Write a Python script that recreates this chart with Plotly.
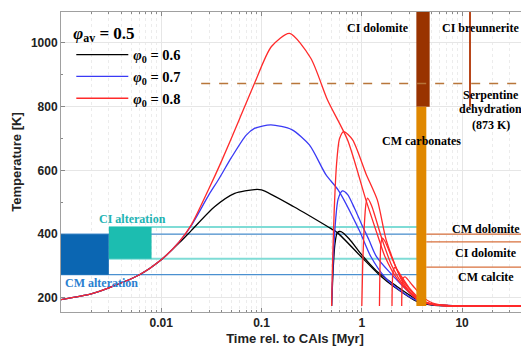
import math
import plotly.graph_objects as go

# ---------------- data ----------------
# main curves, time [Myr] and temperature [K]
black_t = [0.001, 0.002, 0.003, 0.006, 0.01, 0.015, 0.02, 0.034, 0.054, 0.085, 0.1, 0.21, 0.455, 0.57, 0.98, 1.5, 2.1, 3.6, 5.0, 8.0, 46]
black_T = [195, 213, 232, 272, 320, 372, 412, 486, 528, 540, 539, 486, 424, 405, 330, 272, 235, 188, 178, 175.5, 175]

blue_t = [0.001, 0.002, 0.003, 0.006, 0.01, 0.015, 0.02, 0.03, 0.037, 0.05, 0.07, 0.085, 0.124, 0.2, 0.3, 0.44, 0.58, 0.94, 1.23, 1.7, 2.3, 3.5, 5.0, 8.0, 46]
blue_T = [195, 213, 232, 272, 320, 375, 428, 525, 570, 640, 710, 732, 743, 728, 680, 586, 539, 413, 330, 265, 228, 192, 179, 175.5, 175]

red_t = [0.001, 0.002, 0.003, 0.006, 0.01, 0.015, 0.02, 0.03, 0.04, 0.06, 0.085, 0.125, 0.19, 0.31, 0.455, 0.72, 1.1, 1.49, 1.7, 2.3, 3.6, 5.0, 8.0, 46]
red_T = [195, 213, 232, 272, 320, 375, 430, 544, 630, 760, 873, 988, 1030, 952, 821, 696, 507, 382, 330, 256, 194, 180, 175.5, 175]

# later-formed bodies (same colours, no legend entry)
black_late = [
    ([0.5, 0.52, 0.54, 0.57, 0.62, 0.75, 1.0, 1.4, 2.2, 3.8, 5.5, 9, 46],
     [175, 300, 370, 405, 408, 385, 335, 285, 238, 190, 178, 175.5, 175]),
]
blue_late = [
    ([0.5, 0.52, 0.55, 0.58, 0.64, 0.72, 0.85, 1.0, 1.18, 1.4, 2.6, 3.8, 5.5, 9, 46],
     [175, 330, 450, 510, 536, 525, 480, 430, 382, 330, 235, 190, 178, 175.5, 175]),
]
red_late = [
    ([0.5, 0.51, 0.53, 0.56, 0.6, 0.66, 0.81, 1.1, 1.43, 1.75, 2.4, 3.6, 5.0, 8, 46],
     [175, 300, 470, 620, 700, 722, 696, 590, 507, 382, 270, 200, 181, 175.5, 175]),
    ([1.0, 1.02, 1.06, 1.1, 1.14, 1.25, 1.6, 2.0, 2.6, 3.6, 5.0, 8, 46],
     [175, 300, 430, 495, 513, 490, 382, 300, 240, 198, 181, 175.5, 175]),
    ([1.5, 1.52, 1.55, 1.6, 1.7, 2.0, 2.5, 3.2, 4.2, 6, 46],
     [175, 300, 370, 388, 378, 325, 255, 210, 186, 176.5, 175]),
    ([2.0, 2.02, 2.07, 2.15, 2.4, 3.0, 4.0, 6, 46],
     [175, 255, 290, 296, 275, 230, 192, 177, 175]),
    ([2.5, 2.52, 2.58, 2.7, 3.2, 4.0, 5.0, 7, 46],
     [175, 235, 262, 266, 240, 205, 185, 176.5, 175]),
]

series_names = ["<i>φ</i><sub>0</sub> = 0.6", "<i>φ</i><sub>0</sub> = 0.7", "<i>φ</i><sub>0</sub> = 0.8"]
series_colors = ["#000000", "#3a3af5", "#ff2a2a"]

# alteration ranges: (t0, t1, T0, T1)
cm_alt = (0.001, 0.003, 273, 400)
ci_alt = (0.003, 0.008, 323, 423)
alt_line_end = 4.0
# carbonate ages
ci_dol_bar = (3.5, 4.75, 800, 1097)
cm_carb_bar = (3.5, 4.4, 175, 800)
ci_breun_t = 12.0
ci_breun_T = (800, 1097)
serp_T = 873
serp_t0 = 0.025
carb_T_lines = [400, 376, 297]
carb_line_start = 4.4

x_range = [0.001, 46.5]
y_range = [156, 1097]
x_ticks = [0.01, 0.1, 1, 10]
x_ticklabels = ["0.01", "0.1", "1", "10"]
y_ticks = [200, 400, 600, 800, 1000]

# ---------------- figure ----------------
fig = go.Figure()

lw = 1.3
for name, col, t, T, late in zip(series_names, series_colors,
                                 [black_t, blue_t, red_t], [black_T, blue_T, red_T],
                                 [black_late, blue_late, red_late]):
    fig.add_trace(go.Scatter(x=t, y=T, mode="lines", name=name, legendgroup=name,
                             line=dict(color=col, width=lw, shape="spline", smoothing=0.7)))
    for lt, lT in late:
        fig.add_trace(go.Scatter(x=lt, y=lT, mode="lines", showlegend=False, legendgroup=name,
                                 line=dict(color=col, width=lw, shape="spline", smoothing=0.7)))

shapes = []
# alteration lines (above grid, below traces)
for T in (cm_alt[2], cm_alt[3]):
    shapes.append(dict(type="line", xref="x", yref="y", x0=cm_alt[0], x1=alt_line_end, y0=T, y1=T,
                       line=dict(color="#4a90d0", width=1.3), layer="between"))
for T in (ci_alt[2], ci_alt[3]):
    shapes.append(dict(type="line", xref="x", yref="y", x0=ci_alt[0], x1=alt_line_end, y0=T, y1=T,
                       line=dict(color="#7fdcd6", width=2), layer="between"))
for T in carb_T_lines:
    shapes.append(dict(type="line", xref="x", yref="y", x0=carb_line_start, x1=x_range[1], y0=T, y1=T,
                       line=dict(color="#d8703c", width=1.2), layer="between"))
# boxes
shapes.append(dict(type="rect", xref="x", yref="y", x0=cm_alt[0], x1=cm_alt[1], y0=cm_alt[2], y1=cm_alt[3],
                   fillcolor="#0b66b2", line=dict(width=0), layer="above"))
shapes.append(dict(type="rect", xref="x", yref="y", x0=ci_alt[0], x1=ci_alt[1], y0=ci_alt[2], y1=ci_alt[3],
                   fillcolor="#1cbdb0", line=dict(width=0), layer="above"))
shapes.append(dict(type="rect", xref="x", yref="y", x0=ci_dol_bar[0], x1=ci_dol_bar[1], y0=ci_dol_bar[2], y1=ci_dol_bar[3],
                   fillcolor="#993300", line=dict(width=0), layer="above"))
shapes.append(dict(type="rect", xref="x", yref="y", x0=cm_carb_bar[0], x1=cm_carb_bar[1], y0=cm_carb_bar[2], y1=cm_carb_bar[3],
                   fillcolor="#e08800", line=dict(width=0), layer="above"))
shapes.append(dict(type="line", xref="x", yref="y", x0=ci_breun_t, x1=ci_breun_t, y0=ci_breun_T[0], y1=ci_breun_T[1],
                   line=dict(color="#b8461a", width=2), layer="above"))
shapes.append(dict(type="line", xref="x", yref="y", x0=serp_t0, x1=x_range[1], y0=serp_T, y1=serp_T,
                   line=dict(color="#b8763a", width=1.5, dash="dash"), layer="above"))

serif = "Liberation Serif"
ann = []
def label(t, T, text, color="#000000", size=12):
    ann.append(dict(x=math.log10(t), y=T, xref="x", yref="y", text="<b>" + text + "</b>",
                    showarrow=False, font=dict(family=serif, size=size, color=color),
                    xanchor="center", yanchor="middle"))

label(1.46, 1047, "CI dolomite")
label(15.3, 1047, "CI breunnerite")
label(19.3, 837, "Serpentine")
label(19.3, 793, "dehydration")
label(19.3, 743, "(873 K)")
label(3.95, 693, "CM carbonates")
label(17.5, 415, "CM dolomite")
label(17.5, 340, "CI dolomite")
label(17.5, 265, "CM calcite")
label(0.00514, 447, "CI alteration", color="#22b3b3")
label(0.00256, 248, "CM alteration", color="#2a80d0")

axis_common = dict(showline=True, linecolor="#a0a0a0", linewidth=1, mirror="ticks",
                   ticks="inside", ticklen=4, tickcolor="#888888",
                   gridcolor="#e6e6e6", gridwidth=1, zeroline=False,
                   tickfont=dict(family="Liberation Sans", size=12, color="#222222", weight="bold"))

# the page body adds an 8 px margin, so the figure is 8 px smaller than the window
fig.update_layout(
    width=521, height=344,
    margin=dict(l=53, r=0, t=4, b=40),
    paper_bgcolor="white", plot_bgcolor="white",
    shapes=shapes, annotations=ann,
    showlegend=True,
    legend=dict(x=0.022, y=0.985, xanchor="left", yanchor="top", bgcolor="rgba(0,0,0,0)",
                itemwidth=52, tracegroupgap=0,
                font=dict(family=serif, size=14.5, color="#000000", weight="bold"),
                title=dict(text="<b><i>φ</i><sub>av</sub> = 0.5</b>",
                           font=dict(family=serif, size=17, color="#000000"))),
    xaxis=dict(type="log", range=[math.log10(x_range[0]), math.log10(x_range[1])],
               tickvals=x_ticks, ticktext=x_ticklabels,
               minor=dict(dtick="D1", ticks="inside", ticklen=2, tickcolor="#888888", showgrid=True,
                          gridcolor="#ececec", griddash="dot", gridwidth=1),
               title=dict(text="Time rel. to CAIs [Myr]", standoff=4,
                          font=dict(family="Liberation Sans", size=13, color="#222222", weight="bold")),
               **axis_common),
    yaxis=dict(range=y_range, tickvals=y_ticks,
               minor=dict(dtick=100, ticks="inside", ticklen=2, tickcolor="#888888", showgrid=False),
               title=dict(text="Temperature [K]", standoff=6,
                          font=dict(family="Liberation Sans", size=13, color="#222222", weight="bold")),
               **axis_common),
)

fig.write_html("out.html")
